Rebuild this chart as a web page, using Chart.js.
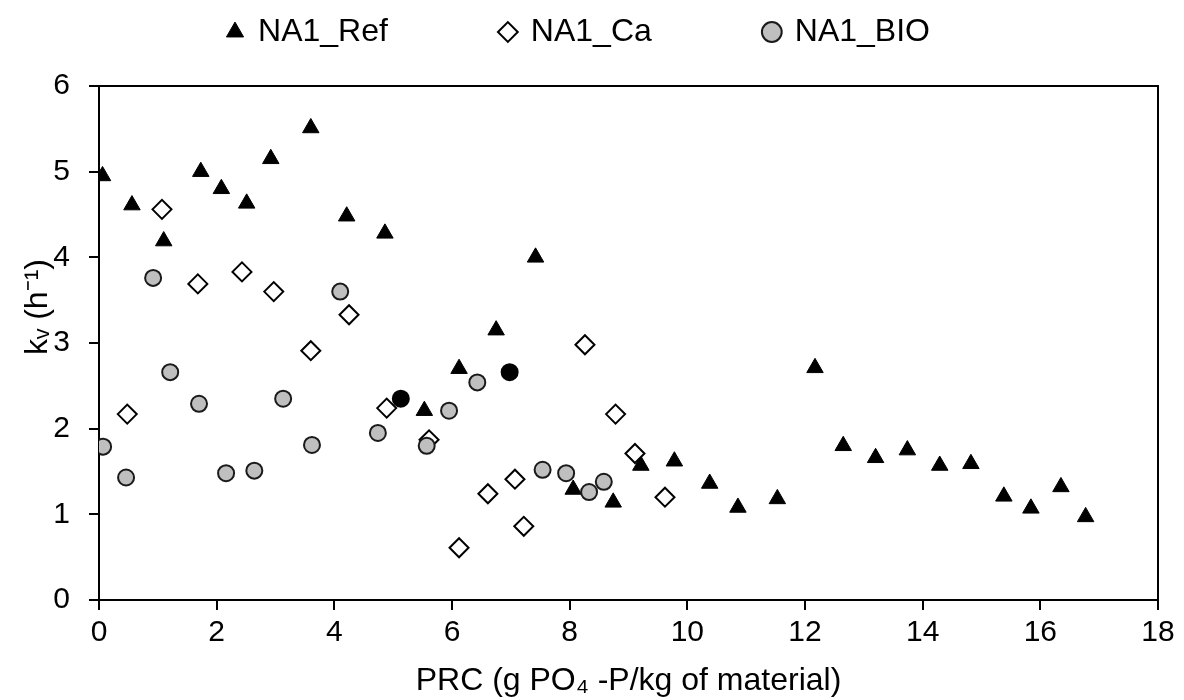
<!DOCTYPE html>
<html><head><meta charset="utf-8">
<script src="https://cdn.jsdelivr.net/npm/chart.js@4.4.1/dist/chart.umd.min.js"></script>
<style>html,body{margin:0;padding:0;background:#fff;}#wrap{width:1184px;height:700px;position:relative;}</style>
</head><body><div id="wrap"><canvas id="c" width="1184" height="700" style="width:1184px;height:700px"></canvas></div>
<script>
// ---- data ----
const seriesNames = ['NA1_Ref', 'NA1_Ca', 'NA1_BIO'];
const refX = [0.06,0.56,1.10,1.73,2.08,2.51,2.92,3.60,4.21,4.86,5.53,6.12,6.75,7.42,8.06,8.74,9.21,9.78,10.38,10.86,11.53,12.17,12.65,13.20,13.74,14.29,14.82,15.38,15.84,16.35,16.77];
const refY = [4.95,4.61,4.19,5.00,4.80,4.63,5.15,5.51,4.48,4.28,2.21,2.70,3.15,4.00,1.29,1.14,1.57,1.62,1.36,1.08,1.18,2.71,1.80,1.66,1.75,1.57,1.59,1.21,1.07,1.32,0.97];
const caX = [0.48,1.07,1.68,2.43,2.97,3.60,4.25,4.89,5.61,6.12,6.61,7.07,7.22,8.26,8.78,9.11,9.62];
const caY = [2.17,4.56,3.69,3.83,3.60,2.91,3.33,2.24,1.87,0.61,1.24,1.41,0.86,2.98,2.17,1.71,1.20];
const bioX = [0.07,0.46,0.92,1.21,1.70,2.16,2.64,3.13,3.62,4.10,4.74,5.57,5.95,6.43,7.54,7.94,8.33,8.58];
const bioY = [1.79,1.43,3.76,2.66,2.29,1.48,1.51,2.35,1.81,3.60,1.95,1.80,2.21,2.54,1.52,1.48,1.26,1.38];
const bioMarkedX = [5.13,6.98];
const bioMarkedY = [2.35,2.66];
const xTicks = [0,2,4,6,8,10,12,14,16,18];
const yTicks = [0,1,2,3,4,5,6];
const xTitle = 'PRC (g PO\u2084 -P/kg of material)';
const yTitle = 'k\u1D65 (h\u207B\u00B9)';

const pts = (xs, ys) => xs.map((x, i) => ({x, y: ys[i]}));
const FONT = "'Liberation Sans', Arial, sans-serif";
const LEG_FONT = 32, LEG_PAD = 113, LEG_Y = 32;
const Y_TITLE_SHIFT = -36;

// keep the wide legend spacing without letting it take vertical room,
// and lift the y-axis title a little as in the reference
const layoutTweaks = {
  id: 'layoutTweaks',
  beforeLayout(chart) {
    const lg = chart.legend;
    if (lg && !lg._patched) {
      const f = lg.fit;
      lg.fit = function () { f.call(this); this.height = 44; };
      lg._patched = true;
    }
  },
  afterLayout(chart) {
    const lg = chart.legend;
    lg.top = LEG_Y - LEG_FONT / 2 - LEG_PAD;
    lg.bottom = 72;
    const sy = chart.scales.y;
    if (sy && !sy._patched) {
      const d = sy.drawTitle;
      sy.drawTitle = function () {
        const c = this.ctx; c.save(); c.translate(0, Y_TITLE_SHIFT); d.apply(this, arguments); c.restore();
      };
      sy._patched = true;
    }
  }
};

new Chart(document.getElementById('c'), {
  type: 'scatter',
  data: {
    datasets: [
      {label: seriesNames[0], data: pts(refX, refY), pointStyle: 'triangle', pointRadius: 9.5, pointHoverRadius: 9.5,
       backgroundColor: '#000', borderColor: '#000', borderWidth: 1, order: 3},
      {label: seriesNames[1], data: pts(caX, caY), pointStyle: 'rectRot', pointRadius: 9.5, pointHoverRadius: 9.5,
       backgroundColor: '#fff', borderColor: '#000', borderWidth: 2, order: 2},
      {label: seriesNames[2], data: pts(bioX, bioY), pointStyle: 'circle', pointRadius: 8, pointHoverRadius: 8,
       backgroundColor: '#bfbfbf', borderColor: '#1a1a1a', borderWidth: 2, order: 1},
      {label: 'marked', data: pts(bioMarkedX, bioMarkedY), pointStyle: 'circle', pointRadius: 8, pointHoverRadius: 8,
       backgroundColor: '#000', borderColor: '#000', borderWidth: 2, order: 0}
    ]
  },
  options: {
    responsive: false,
    animation: false,
    devicePixelRatio: 1,
    layout: {padding: {top: 10, left: 0, right: 26, bottom: 0}},
    plugins: {
      tooltip: {enabled: false},
      legend: {
        position: 'top',
        labels: {
          filter: (item) => item.datasetIndex < 3,
          sort: (a, b) => a.datasetIndex - b.datasetIndex,
          usePointStyle: true, boxWidth: 14, boxHeight: 14, padding: LEG_PAD,
          color: '#000', font: {family: FONT, size: LEG_FONT}
        }
      }
    },
    scales: {
      x: {
        type: 'linear', min: 0, max: 18,
        afterBuildTicks: (s) => { s.ticks = xTicks.map(v => ({value: v})); },
        afterFit: (s) => { s.height = 100; },
        ticks: {color: '#000', font: {family: FONT, size: 30}, padding: 5, autoSkip: false, maxRotation: 0},
        grid: {drawOnChartArea: false, drawTicks: true, tickLength: 10, color: '#000', lineWidth: 2},
        border: {display: true, color: '#000', width: 2},
        title: {display: true, text: xTitle, color: '#000', font: {family: FONT, size: 32}, padding: {top: 0, bottom: 0}}
      },
      y: {
        type: 'linear', min: 0, max: 6,
        afterBuildTicks: (s) => { s.ticks = yTicks.map(v => ({value: v})); },
        afterFit: (s) => { s.width = 99; },
        ticks: {color: '#000', font: {family: FONT, size: 30}, padding: 19, autoSkip: false},
        grid: {drawOnChartArea: false, drawTicks: true, tickLength: 10, color: '#000', lineWidth: 2},
        border: {display: true, color: '#000', width: 2},
        title: {display: true, text: yTitle, color: '#000', font: {family: FONT, size: 32}, padding: {top: 19, bottom: 0}}
      },
      x2: {
        type: 'linear', position: 'top', min: 0, max: 18,
        afterFit: (s) => { s.height = 32; },
        ticks: {display: false}, grid: {display: false},
        border: {display: true, color: '#000', width: 2}
      },
      y2: {
        type: 'linear', position: 'right', min: 0, max: 6,
        afterFit: (s) => { s.width = 0; },
        ticks: {display: false}, grid: {display: false},
        border: {display: true, color: '#000', width: 2}
      }
    }
  },
  plugins: [layoutTweaks]
});
</script></body></html>
